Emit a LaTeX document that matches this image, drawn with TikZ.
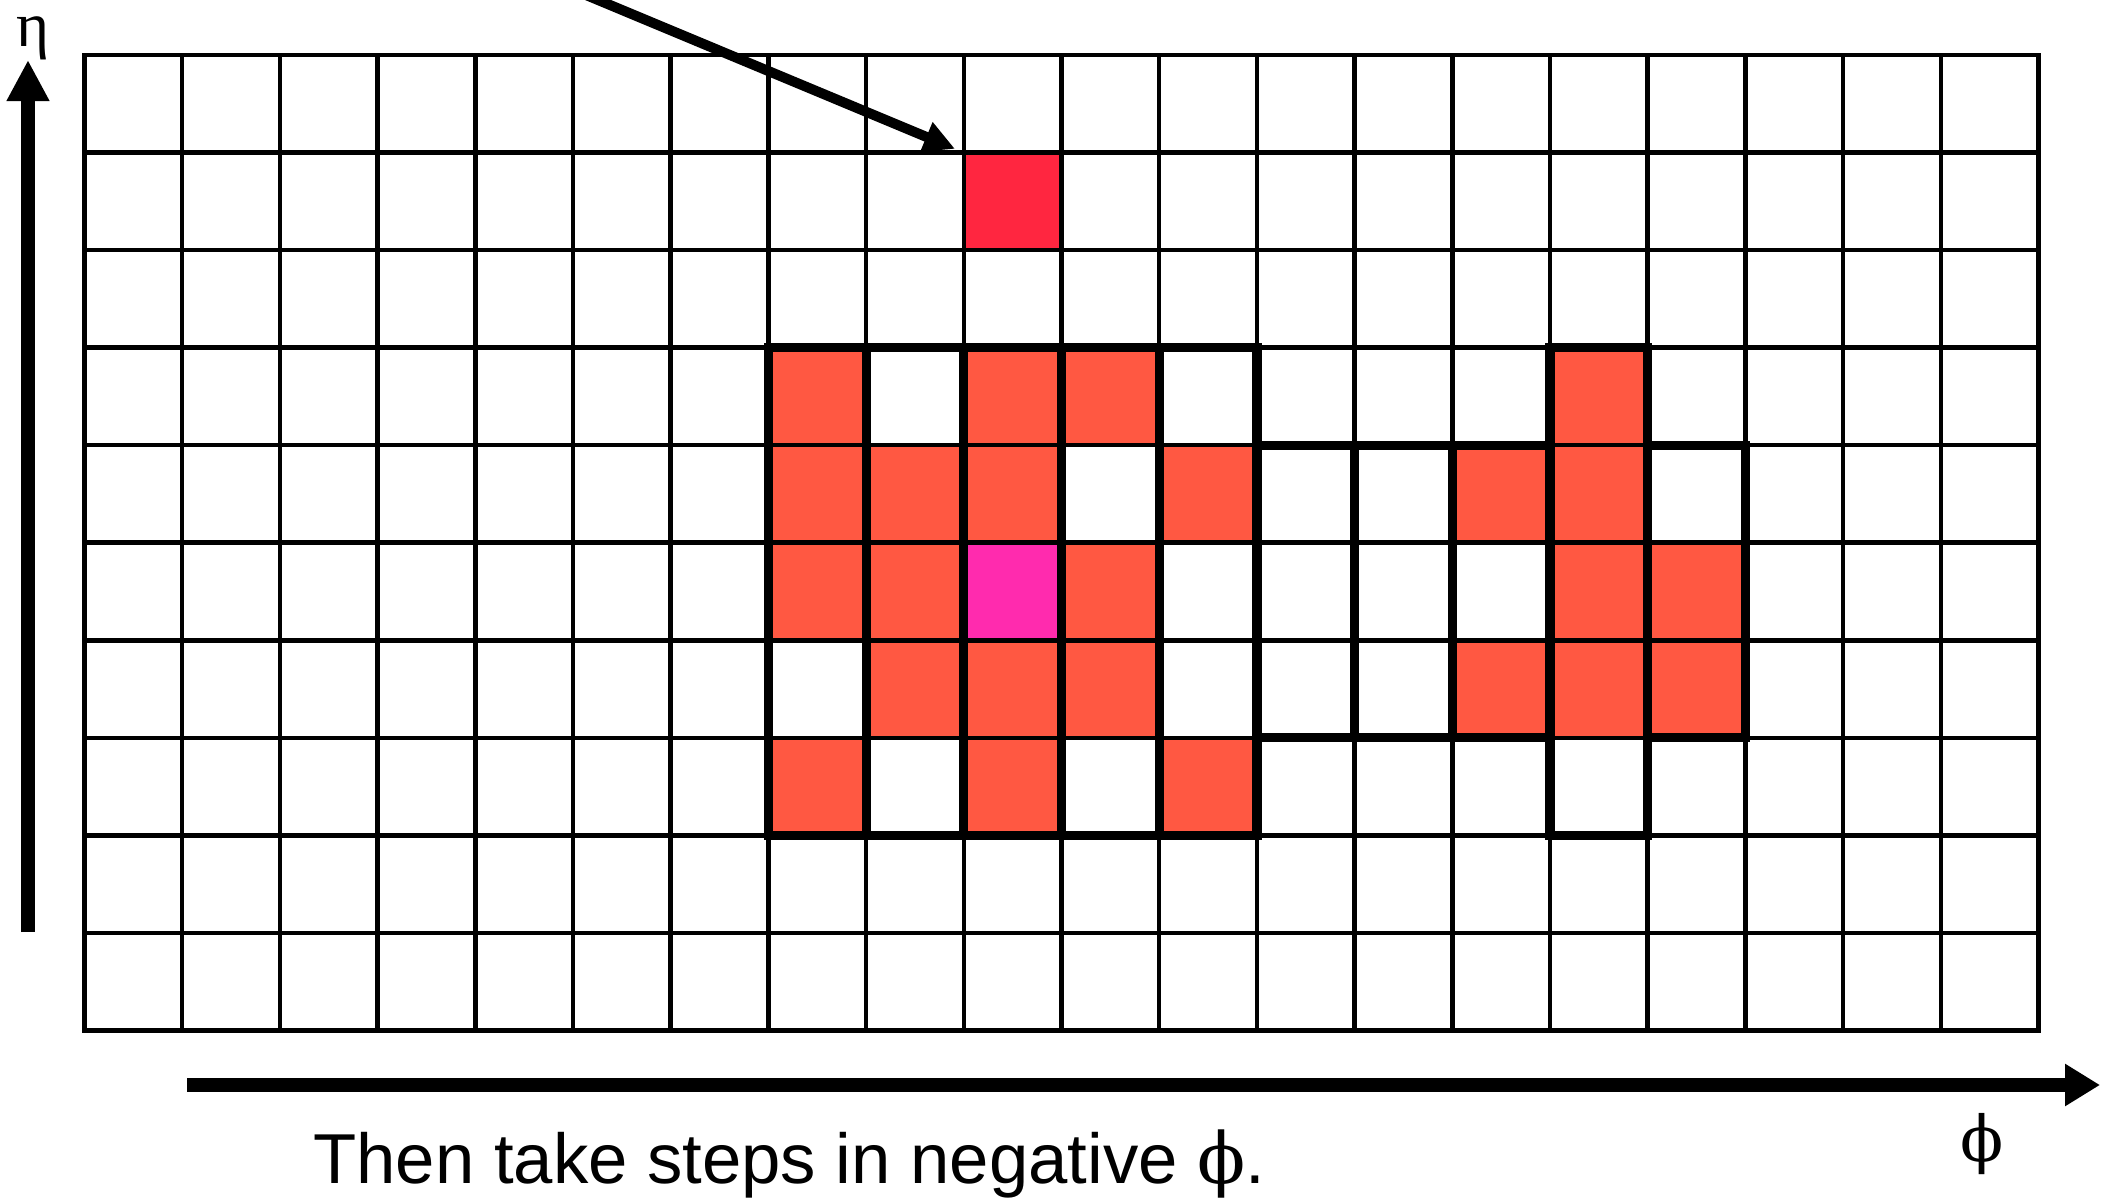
\documentclass[tikz,border=0pt]{standalone}
\usepackage{fontspec}
\setmainfont{Liberation Sans}
\newfontfamily\greekfont{DejaVu Serif}
\newfontfamily\etafont{Liberation Serif}
\usetikzlibrary{arrows.meta}
\definecolor{cellorange}{RGB}{255,88,66}
\definecolor{cellmagenta}{RGB}{255,43,174}
\definecolor{cellred}{RGB}{255,38,64}
\begin{document}
\begin{tikzpicture}[x=0.01cm,y=-0.01cm,
  cell/.style={rectangle,draw=black,line width=1.3pt,fill=white,
    minimum width=0.977cm,minimum height=0.9755cm,inner sep=0pt,outer sep=0pt},
  strip/.style={draw=black,line width=2.6pt},
  orng/.style={fill=cellorange},
  cf-7-3/.style=orng, cf-9-3/.style=orng, cf-10-3/.style=orng, cf-15-3/.style=orng,
  cf-7-4/.style=orng, cf-8-4/.style=orng, cf-9-4/.style=orng, cf-11-4/.style=orng,
  cf-14-4/.style=orng, cf-15-4/.style=orng,
  cf-7-5/.style=orng, cf-8-5/.style=orng, cf-10-5/.style=orng, cf-15-5/.style=orng,
  cf-16-5/.style=orng, cf-9-5/.style={fill=cellmagenta},
  cf-8-6/.style=orng, cf-9-6/.style=orng, cf-10-6/.style=orng, cf-14-6/.style=orng,
  cf-15-6/.style=orng, cf-16-6/.style=orng,
  cf-7-7/.style=orng, cf-9-7/.style=orng, cf-11-7/.style=orng,
  cf-9-1/.style={fill=cellred},
  greeklabel/.style={inner sep=0pt,font=\greekfont\fontsize{18pt}{20pt}\selectfont}
]
\useasboundingbox (0,0) rectangle (2101,1198);

% grid cells
\foreach \i in {0,...,19}{
  \foreach \j in {0,...,9}{
    \node[cell,cf-\i-\j/.try] (c-\i-\j) at ({84.5+97.7*(\i+0.5)},{55+97.55*(\j+0.5)}) {};
  }
}

% bold strips
\foreach \c in {7,...,11}{
  \draw[strip] (c-\c-3.north west) rectangle (c-\c-7.south east);
}
\foreach \c in {12,13,14,16}{
  \draw[strip] (c-\c-4.north west) rectangle (c-\c-6.south east);
}
\draw[strip] (c-15-3.north west) rectangle (c-15-7.south east);

% pointer arrow to red cell
\coordinate (ptrS) at (574,-10);
\draw[line width=0.1cm,-{Triangle[length=0.31cm,width=0.30cm]},shorten >=0.095cm] (ptrS) -- (c-9-1.north west);

% eta axis
\coordinate (etaS) at (28,932);
\coordinate (etaE) at (28,60);
\draw[line width=0.133cm,-{Triangle[length=0.41cm,width=0.40cm]}] (etaS) -- (etaE);

% phi axis
\coordinate (phiS) at (187,1085);
\coordinate (phiE) at (2100,1085);
\draw[line width=0.14cm,-{Triangle[length=0.35cm,width=0.40cm]}] (phiS) -- (phiE);

% labels
\node[inner sep=0pt,font=\etafont\fontsize{18pt}{20pt}\selectfont] (eta) at (33,38) {η};
\node[greeklabel] (phi) at (1982,1144) {ϕ};
\node[anchor=base west,inner sep=0pt,font=\fontsize{20.1pt}{24pt}\selectfont] (cap) at (312.7,1183.3)
  {Then take steps in negative {\greekfont ϕ}.};
\end{tikzpicture}
\end{document}
